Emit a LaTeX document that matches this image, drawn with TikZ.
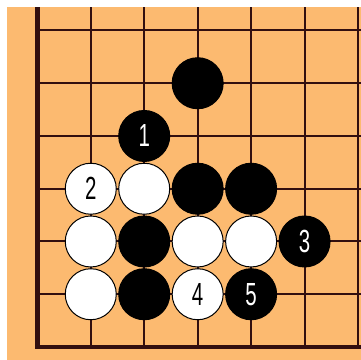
\documentclass[tikz,border=0pt]{standalone}
\usepackage{fontspec}
\usepackage{graphicx}
\usepackage{xcolor}
\newfontfamily\stonefont{Liberation Sans}
\definecolor{boardbg}{RGB}{252,186,112}
\definecolor{gridline}{RGB}{50,15,15}
\newcommand{\stonenum}[1]{\scalebox{0.64}[1]{#1}}
\usetikzlibrary{positioning}

\begin{document}
\begin{tikzpicture}[
  x=53.45pt, y=52.75pt,
  grid/.style={draw=gridline, line width=2pt},
  edge/.style={draw=gridline, line width=4.5pt, line join=miter},
  stone/.style={circle, draw=black, line width=1pt, minimum size=51pt, inner sep=0pt, font=\stonefont\fontsize{32}{32}\selectfont},
  blackstone/.style={stone, fill=black, text=white},
  whitestone/.style={stone, fill=white, text=black}
]
\useasboundingbox (-0.698,-0.246) rectangle (6.056,6.578);
\fill[white] (-0.698,-0.246) rectangle (6.056,6.578);
\fill[boardbg] (-0.567,-0.246) rectangle (6.056,6.445);

\foreach \c in {1,...,6} \draw[grid] (\c,0) -- (\c,6.445);
\foreach \r in {1,...,6} \draw[grid] (0,\r) -- (6.056,\r);
\draw[edge] (0,6.445) -- (0,0) -- (6.056,0);

\node[blackstone] (b0) at (3,5) {};
\node[blackstone] (m1) at (2,4) {\stonenum{1}};
\node[whitestone] (m2) at (1,3) {\stonenum{2}};
\node[whitestone] (w1) at (2,3) {};
\node[blackstone] (b1) at (3,3) {};
\node[blackstone] (b2) at (4,3) {};
\node[whitestone] (w2) at (1,2) {};
\node[blackstone] (b3) at (2,2) {};
\node[whitestone] (w3) at (3,2) {};
\node[whitestone] (w4) at (4,2) {};
\node[blackstone] (m3) at (5,2) {\stonenum{3}};
\node[whitestone] (w5) at (1,1) {};
\node[blackstone] (b4) at (2,1) {};
\node[whitestone] (m4) at (3,1) {\stonenum{4}};
\node[blackstone] (m5) at (4,1) {\stonenum{5}};
\end{tikzpicture}
\end{document}
